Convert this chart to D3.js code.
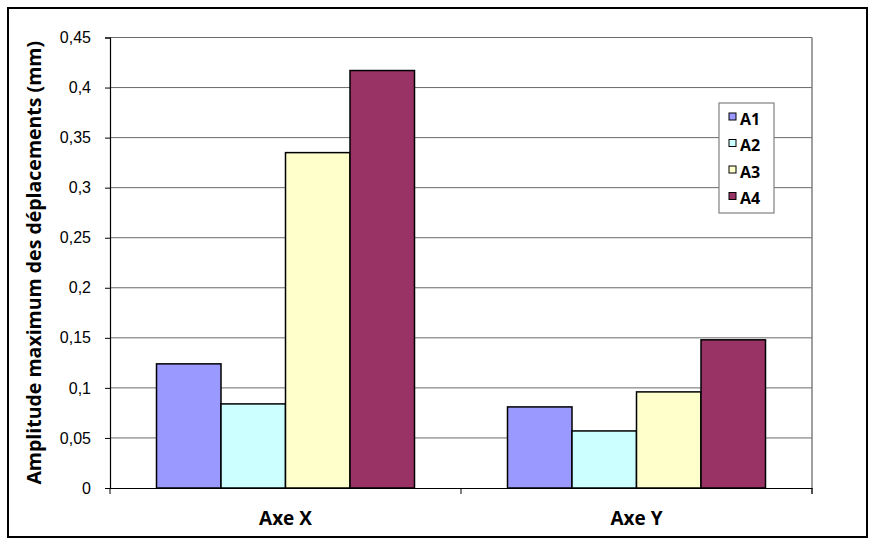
<!DOCTYPE html>
<html><head><meta charset="utf-8">
<script src="https://cdn.jsdelivr.net/npm/d3@7"></script>
<style>body{margin:0;background:#fff}svg{display:block}</style>
</head><body>
<script>
const categories = ["Axe X", "Axe Y"];
const seriesNames = ["A1", "A2", "A3", "A4"];
const A1 = [0.124, 0.081];
const A2 = [0.084, 0.057];
const A3 = [0.335, 0.096];
const A4 = [0.417, 0.148];
const yTicks = [0, 0.05, 0.1, 0.15, 0.2, 0.25, 0.3, 0.35, 0.4, 0.45];
const colors = ["#9999FF", "#CCFFFF", "#FFFFCC", "#993366"];
const seriesValues = [A1, A2, A3, A4];

const W = 875, H = 545;
const svg = d3.select("body").append("svg").attr("width", W).attr("height", H);
svg.append("rect").attr("x", 8).attr("y", 8).attr("width", 859).attr("height", 529)
  .attr("fill", "#fff").attr("stroke", "#000").attr("stroke-width", 2);

const L = 110, R = 812, T = 37.5, B = 488;
const y = d3.scaleLinear().domain([0, 0.45]).range([B, T]);
const x0 = d3.scaleBand().domain(categories).range([L, R]).paddingInner(0).paddingOuter(0);
const groupPad = 46.5;
const x1 = d3.scaleBand().domain(seriesNames).range([groupPad, x0.bandwidth() - groupPad]).padding(0);

// gridlines
svg.append("g").selectAll("line").data(yTicks.filter(d => d > 0)).join("line")
  .attr("x1", L).attr("x2", R).attr("y1", d => y(d)).attr("y2", d => y(d))
  .attr("stroke", "#6a6a6a").attr("stroke-width", 1);
// right border of plot
svg.append("line").attr("x1", R).attr("x2", R).attr("y1", T).attr("y2", B + 6)
  .attr("stroke", "#808080").attr("stroke-width", 1.5);

// bars
const groups = svg.append("g").selectAll("g").data(categories).join("g")
  .attr("transform", d => `translate(${x0(d)},0)`);
groups.selectAll("rect").data((c, ci) => seriesNames.map((s, si) => ({s, si, v: seriesValues[si][ci]})))
  .join("rect")
  .attr("x", d => x1(d.s)).attr("width", x1.bandwidth())
  .attr("y", d => y(d.v)).attr("height", d => B - y(d.v))
  .attr("fill", d => colors[d.si]).attr("stroke", "#000").attr("stroke-width", 1.5);

// y axis
const yAxis = d3.axisLeft(y).tickValues(yTicks).tickSize(5).tickPadding(14)
  .tickFormat(d => d3.format("")(d).replace(".", ","));
const ya = svg.append("g").attr("transform", `translate(${L},0)`).call(yAxis);
ya.select(".domain").attr("stroke", "#000").attr("stroke-width", 1.2);
ya.selectAll(".tick line").attr("stroke", "#000");
ya.selectAll("text").attr("font-family", "Liberation Sans, Arial, sans-serif").attr("font-size", 16).attr("fill", "#000");

// x axis
const xa = svg.append("g").attr("transform", `translate(0,${B})`)
  .call(d3.axisBottom(x0).tickSize(0).tickPadding(30));
xa.select(".domain").attr("stroke", "#000").attr("stroke-width", 1.2);
xa.selectAll("text").attr("font-family", "Open Sans, sans-serif").attr("font-size", 19)
  .attr("font-weight", "bold").attr("fill", "#000").attr("dy", "0.35em");
svg.append("g").selectAll("line").data([L, L + x0.bandwidth(), R]).join("line")
  .attr("x1", d => d).attr("x2", d => d).attr("y1", B).attr("y2", B + 6)
  .attr("stroke", "#000").attr("stroke-width", 1);

// y title
svg.append("text").attr("transform", `translate(41,${(T + B) / 2}) rotate(-90)`)
  .attr("text-anchor", "middle").attr("font-family", "Open Sans, sans-serif")
  .attr("font-size", 19.5).attr("font-weight", "bold").attr("fill", "#000")
  .text("Amplitude maximum des déplacements (mm)");

// legend
const lg = svg.append("g").attr("transform", "translate(719,103)");
lg.append("rect").attr("width", 55).attr("height", 110).attr("fill", "#fff")
  .attr("stroke", "#808080").attr("stroke-width", 1.2);
const li = lg.selectAll("g").data(seriesNames).join("g")
  .attr("transform", (d, i) => `translate(0,${16 + i * 26.5})`);
li.append("rect").attr("x", 10).attr("y", -6).attr("width", 7).attr("height", 7)
  .attr("fill", (d, i) => colors[i]).attr("stroke", "#000").attr("stroke-width", 1);
li.append("text").attr("x", 21).attr("y", 5.5).attr("font-family", "Open Sans, sans-serif")
  .attr("font-size", 16).attr("font-weight", "bold").attr("fill", "#000").text(d => d);
</script>
</body></html>
